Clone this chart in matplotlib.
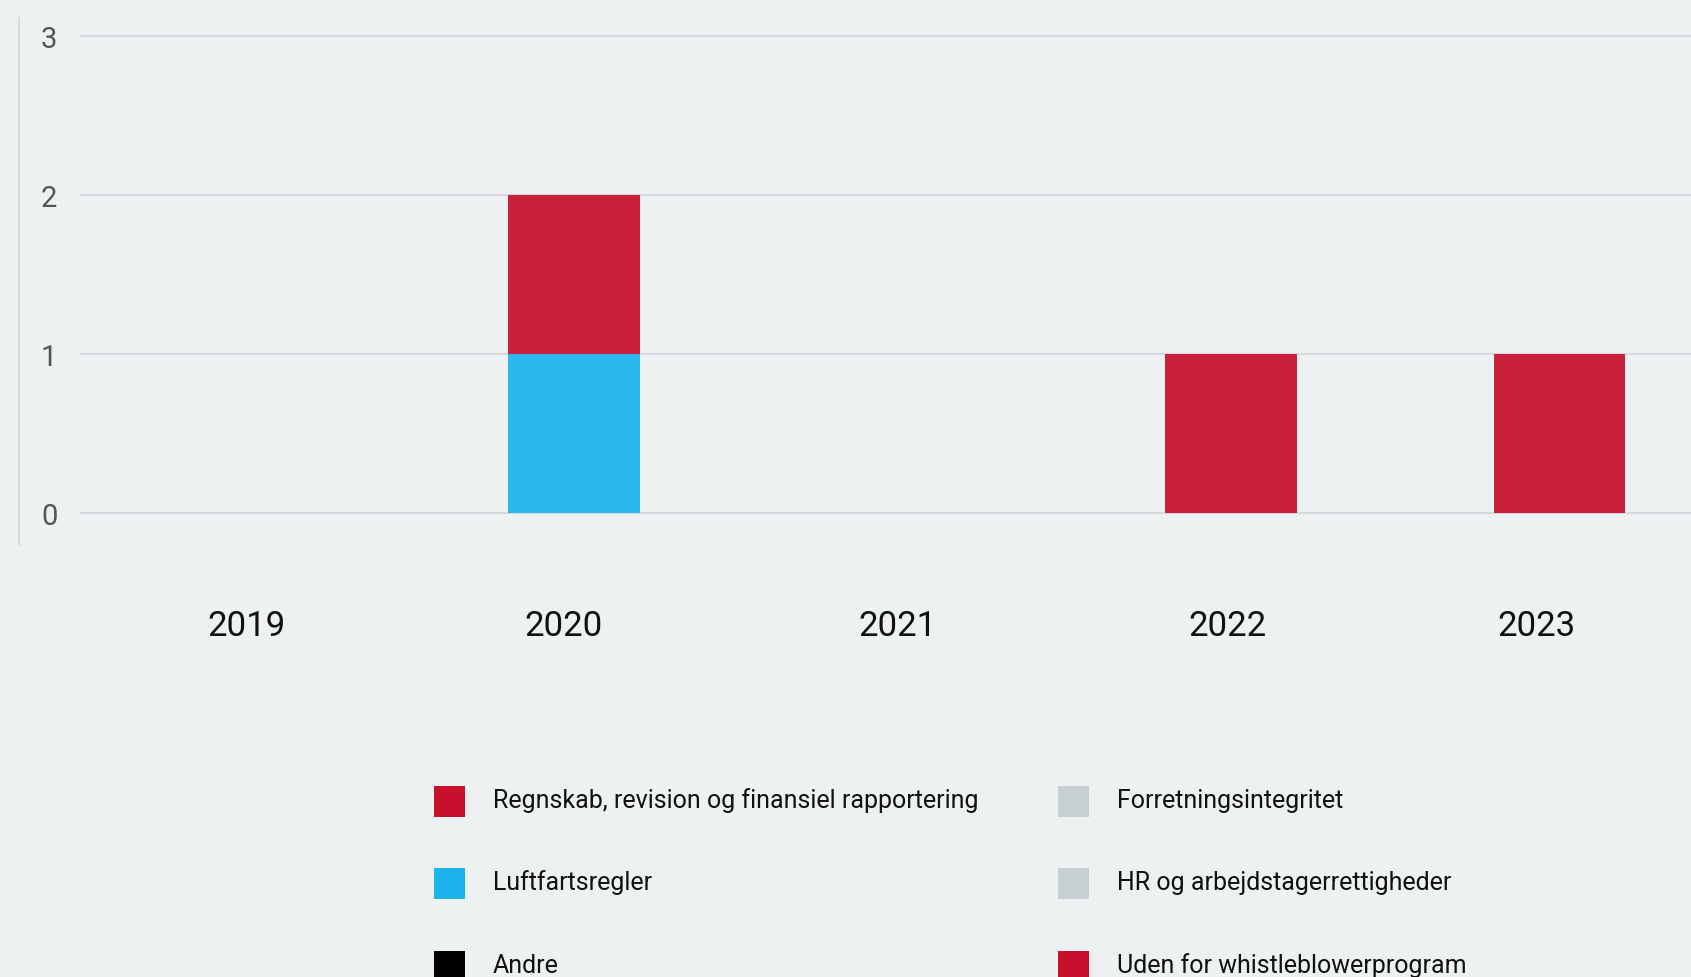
import numpy as np
import matplotlib
matplotlib.use("Agg")
import matplotlib.pyplot as plt
from matplotlib.patches import Patch
from matplotlib.lines import Line2D
from matplotlib.transforms import ScaledTranslation

# Categories and series
years = ["2019", "2020", "2021", "2022", "2023"]

regnskab = [0, 0, 0, 0, 0]
luftfart = [0, 1, 0, 0, 0]
andre = [0, 0, 0, 0, 0]
forretning = [0, 0, 0, 0, 0]
hr = [0, 0, 0, 0, 0]
uden = [0, 1, 0, 1, 1]

series_names = [
    "Regnskab, revision og finansiel rapportering",
    "Luftfartsregler",
    "Andre",
    "Forretningsintegritet",
    "HR og arbejdstagerrettigheder",
    "Uden for whistleblowerprogram",
]
series_values = [regnskab, luftfart, andre, forretning, hr, uden]
series_colors = ["#C8102E", "#1DB4EE", "#000000", "#C8D0D2", "#C8D0D2", "#C8102E"]

y_ticks = [0, 1, 2, 3]

# horizontal nudges (px) of the year labels
year_label_shift = [1, -10, -5, -4, -23]

BG = "#EDF1F2"
GRID = "#D6D9DB"

W, H = 1691, 978
fig = plt.figure(figsize=(W / 100, H / 100), dpi=100, facecolor=BG)
plt.rcParams["font.family"] = ["Roboto", "DejaVu Sans"]


def fx(px):
    return px / W


def fy(py):
    return 1 - py / H


ax_left, ax_right = 81, 1691
ax_top, ax_bottom = 37.2, 514
ax = fig.add_axes([fx(ax_left), fy(ax_bottom), fx(ax_right - ax_left), (ax_bottom - ax_top) / H])
ax.set_facecolor(BG)

x = np.arange(len(years))
bottom = np.zeros(len(years))
for name, vals, col in zip(series_names, series_values, series_colors):
    vals = np.asarray(vals, dtype=float)
    ax.bar(x, vals, width=0.4, bottom=bottom, color=col, alpha=0.93,
           linewidth=0, zorder=3)
    bottom += vals

ax.set_xlim(-0.5, 4.4)
ax.set_ylim(0, 3)

for t in y_ticks:
    ax.axhline(t, color=GRID, linewidth=1.5, zorder=1, clip_on=False)

for s in ax.spines.values():
    s.set_visible(False)

ax.set_yticks(y_ticks)
ax.set_yticklabels([str(t) for t in y_ticks])
ax.tick_params(axis="y", length=0, pad=17, labelsize=21, labelcolor="#555555")

ax.set_xticks(x)
ax.set_xticklabels(years)
ax.tick_params(axis="x", length=0, pad=69, labelsize=25, labelcolor="#111111")
for lbl, dx in zip(ax.get_xticklabels(), year_label_shift):
    lbl.set_transform(lbl.get_transform() + ScaledTranslation(dx / 100, 0, fig.dpi_scale_trans))

# Left rule beside the value axis
fig.add_artist(Line2D([fx(18.5), fx(18.5)], [fy(19), fy(545)], color=GRID,
                      linewidth=1.5, transform=fig.transFigure))

# Legend in two columns
handles = [Patch(facecolor=c, edgecolor="none") for c in series_colors]
leg_kw = dict(frameon=False, fontsize=18, handlelength=1.24, handleheight=1.53,
              handletextpad=1.12, labelspacing=2.06, borderpad=0, borderaxespad=0,
              loc="upper left", labelcolor="#111111")
for col_x, idx in ((434, slice(0, 3)), (1058, slice(3, 6))):
    leg = fig.legend(handles[idx], series_names[idx], bbox_to_anchor=(fx(col_x), fy(787)), **leg_kw)
    for txt in leg.get_texts():
        txt.set_transform(txt.get_transform() + ScaledTranslation(0, 3 / 100, fig.dpi_scale_trans))

fig.savefig("out.png", dpi=100, facecolor=BG)
